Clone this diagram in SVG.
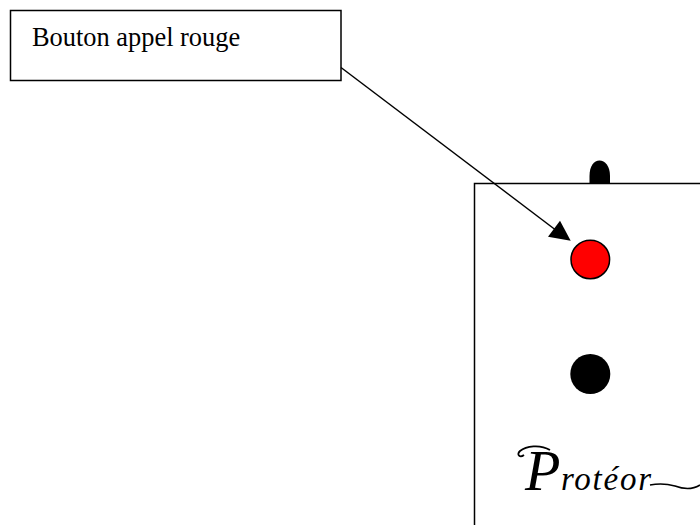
<svg xmlns="http://www.w3.org/2000/svg" width="700" height="525" viewBox="0 0 700 525">
<style>
.o{fill:none;stroke:#000;stroke-width:1.5}
.l{font-family:"Liberation Serif","Times New Roman",serif;fill:#000}
</style>
<rect width="700" height="525" fill="#fff"/>
<g id="device">
<path d="M589.500 183V176C589.500 166 594 160.500 599.500 160.500C605 160.500 610 166 610 176V183Z" fill="#000"/>
<path class="o" d="M474.500 525V183.500H700"/>
</g>
<g id="red-button"><circle cx="590.300" cy="259.500" r="19.300" fill="#f00" stroke="#000" stroke-width="1.500"/></g>
<g id="black-button"><circle cx="590.300" cy="374" r="20" fill="#000"/></g>
<g id="logo">
<text class="l" y="490" font-style="italic"><tspan x="525" font-size="58">P</tspan><tspan x="561" font-size="33" textLength="90" lengthAdjust="spacing">rotéor</tspan></text>
<path d="M550 450C540 444 526 446 520 451C516 455 520 458 524 455" fill="none" stroke="#000" stroke-width="1.800"/>
<path d="M650 485C660 483 668 484 675 486C683 489 692 490 700 485" fill="none" stroke="#000" stroke-width="1.500"/>
</g>
<g id="label-box">
<rect x="10.500" y="10.500" width="330.500" height="70" fill="#fff" stroke="#000" stroke-width="1.500"/>
<text class="l" x="32" y="45.500" font-size="26.400">Bouton appel rouge</text>
</g>
<g id="connectors">
<path class="o" d="M341 67.500L557 231"/>
<path d="M570.700 240.700L548 236.700L560 220.700Z" fill="#000"/>
</g>
</svg>
